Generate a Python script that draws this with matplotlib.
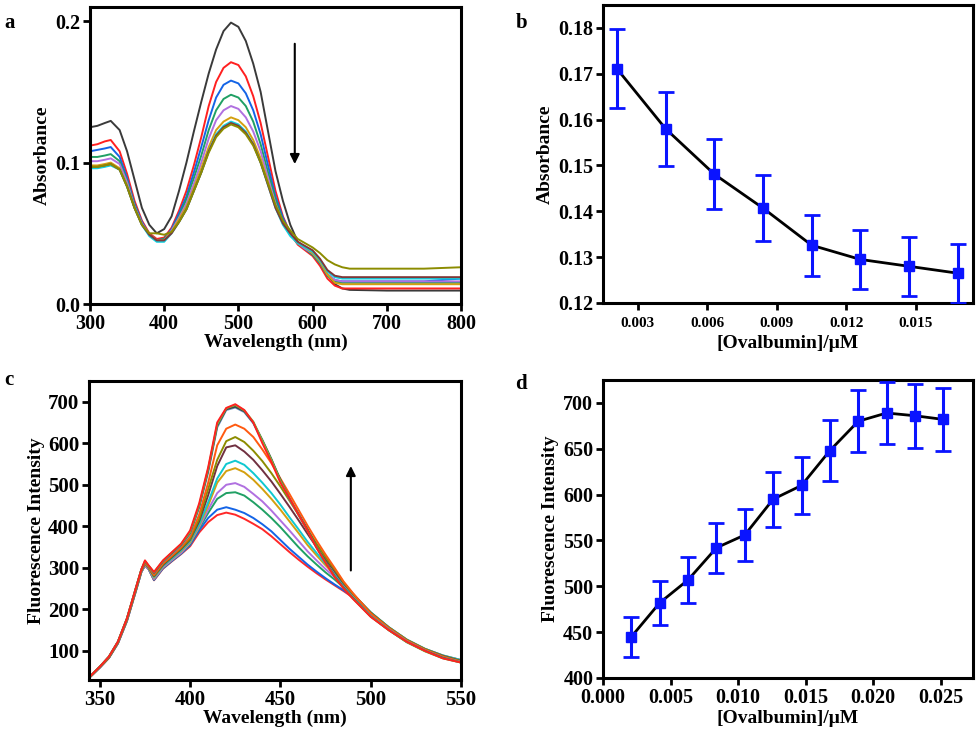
import numpy as np
import matplotlib.pyplot as plt

plt.rcParams['font.family'] = ['Liberation Serif', 'DejaVu Serif']
plt.rcParams['font.weight'] = 'bold'
plt.rcParams['axes.labelweight'] = 'bold'

# ---- panel a : UV-vis spectra ----
wl_a = [300, 310, 320, 328, 340, 350, 360, 370, 380, 390, 400, 410, 420, 430, 440,
        450, 460, 470, 480, 490, 500, 510, 520, 530, 540, 550, 560, 570, 580, 590,
        600, 610, 620, 630, 640, 650, 700, 750, 800]
abs_black = [0.125, 0.126, 0.128, 0.1295, 0.123, 0.108, 0.088, 0.068, 0.056, 0.050, 0.053,
             0.062, 0.080, 0.100, 0.122, 0.143, 0.163, 0.180, 0.193, 0.199, 0.196, 0.186,
             0.170, 0.150, 0.122, 0.094, 0.073, 0.056, 0.044, 0.040, 0.036, 0.030, 0.021,
             0.014, 0.011, 0.010, 0.0095, 0.0095, 0.0095]
abs_red = [0.112, 0.113, 0.115, 0.116, 0.108, 0.092, 0.073, 0.059, 0.050, 0.046, 0.047,
           0.054, 0.066, 0.080, 0.098, 0.118, 0.140, 0.157, 0.167, 0.171, 0.169, 0.161,
           0.147, 0.128, 0.104, 0.080, 0.062, 0.050, 0.042, 0.038, 0.034, 0.027, 0.018,
           0.013, 0.011, 0.011, 0.011, 0.011, 0.011]
abs_blue = [0.108, 0.109, 0.110, 0.111, 0.104, 0.089, 0.071, 0.058, 0.049, 0.045, 0.046,
            0.053, 0.064, 0.076, 0.093, 0.111, 0.130, 0.146, 0.155, 0.158, 0.156, 0.149,
            0.137, 0.120, 0.098, 0.076, 0.061, 0.050, 0.043, 0.039, 0.035, 0.029, 0.021,
            0.017, 0.016, 0.016, 0.016, 0.016, 0.018]
abs_green = [0.104, 0.104, 0.105, 0.106, 0.101, 0.087, 0.070, 0.057, 0.049, 0.045, 0.046,
             0.052, 0.062, 0.074, 0.089, 0.105, 0.123, 0.137, 0.145, 0.148, 0.146, 0.140,
             0.129, 0.113, 0.093, 0.074, 0.059, 0.049, 0.043, 0.039, 0.035, 0.029, 0.020,
             0.016, 0.015, 0.015, 0.015, 0.015, 0.015]
abs_purple = [0.101, 0.101, 0.102, 0.103, 0.099, 0.086, 0.069, 0.057, 0.049, 0.045, 0.045,
              0.052, 0.061, 0.071, 0.085, 0.100, 0.117, 0.130, 0.137, 0.140, 0.138, 0.132,
              0.122, 0.108, 0.089, 0.071, 0.058, 0.049, 0.043, 0.039, 0.036, 0.030, 0.021,
              0.017, 0.016, 0.016, 0.016, 0.016, 0.016]
abs_gold = [0.098, 0.098, 0.099, 0.100, 0.096, 0.084, 0.068, 0.056, 0.049, 0.045, 0.045,
            0.051, 0.060, 0.069, 0.082, 0.096, 0.111, 0.123, 0.129, 0.132, 0.130, 0.125,
            0.116, 0.103, 0.086, 0.069, 0.057, 0.049, 0.043, 0.040, 0.036, 0.030, 0.021,
            0.015, 0.014, 0.014, 0.014, 0.014, 0.014]
abs_cyan = [0.096, 0.096, 0.097, 0.098, 0.095, 0.083, 0.068, 0.056, 0.048, 0.044, 0.044,
            0.050, 0.058, 0.067, 0.080, 0.093, 0.108, 0.120, 0.126, 0.129, 0.127, 0.122,
            0.113, 0.100, 0.084, 0.068, 0.056, 0.048, 0.043, 0.040, 0.037, 0.031, 0.023,
            0.019, 0.018, 0.018, 0.018, 0.018, 0.018]
abs_brown = [0.097, 0.097, 0.098, 0.099, 0.095, 0.083, 0.068, 0.056, 0.049, 0.045, 0.045,
             0.050, 0.058, 0.067, 0.080, 0.093, 0.108, 0.119, 0.125, 0.128, 0.126, 0.121,
             0.113, 0.100, 0.084, 0.068, 0.057, 0.050, 0.044, 0.041, 0.038, 0.032, 0.024,
             0.020, 0.019, 0.019, 0.019, 0.019, 0.019]
abs_olive = [0.097, 0.097, 0.098, 0.099, 0.095, 0.083, 0.068, 0.056, 0.050, 0.050, 0.049,
             0.051, 0.058, 0.067, 0.080, 0.093, 0.107, 0.118, 0.124, 0.127, 0.125, 0.120,
             0.112, 0.100, 0.085, 0.070, 0.059, 0.052, 0.046, 0.043, 0.040, 0.036, 0.031,
             0.028, 0.026, 0.025, 0.025, 0.025, 0.026]
spectra_a = [abs_black, abs_red, abs_blue, abs_green, abs_purple, abs_gold, abs_cyan,
             abs_brown, abs_olive]
colors_a = ['#3a3a3a', '#ff2020', '#1464e6', '#20a064', '#b070e0', '#d4a010', '#10d0e0',
            '#803838', '#8c8c00']

# ---- panel b : absorbance vs ovalbumin ----
conc_b = [0.0021, 0.0042, 0.0063, 0.0084, 0.0105, 0.0126, 0.0147, 0.0168]
abs_b = [0.1711, 0.1580, 0.1481, 0.1407, 0.1326, 0.1295, 0.1280, 0.1265]
err_b = [0.0086, 0.0081, 0.0076, 0.0072, 0.0067, 0.0065, 0.0065, 0.0064]

# ---- panel c : fluorescence spectra ----
wl_c = [344, 350, 355, 360, 365, 370, 373, 375, 377, 380, 385, 390, 395,
        400, 405, 410, 415, 420, 425, 430, 435, 440, 445, 450, 455, 460, 465, 470,
        475, 480, 485, 490, 500, 510, 520, 530, 540, 550]
fl_1 = [35, 60, 83, 118, 172, 245, 290, 306, 297, 270, 298, 316, 333,
        352, 385, 410, 427, 433, 428, 418, 406, 393, 376, 357, 338, 320, 303, 287,
        272, 258, 244, 229, 190, 155, 125, 103, 86, 74]
fl_2 = [35, 60, 83, 118, 172, 245, 290, 306, 297, 271, 299, 317, 334,
        355, 390, 420, 440, 446, 440, 432, 420, 405, 388, 367, 346, 327, 308, 291,
        275, 260, 246, 231, 191, 156, 126, 104, 87, 76]
fl_3 = [35, 60, 83, 118, 172, 245, 290, 306, 298, 272, 300, 318, 335,
        358, 395, 432, 466, 480, 482, 474, 458, 440, 420, 398, 374, 350, 328, 308,
        289, 272, 253, 233, 192, 157, 127, 105, 88, 77]
fl_4 = [35, 60, 83, 118, 172, 245, 290, 307, 298, 273, 301, 319, 336,
        360, 398, 440, 480, 500, 504, 495, 478, 460, 438, 414, 390, 365, 340, 318,
        297, 278, 257, 235, 192, 157, 127, 105, 89, 78]
fl_5 = [35, 61, 84, 120, 175, 248, 293, 310, 300, 276, 304, 322, 340,
        362, 402, 450, 505, 533, 540, 530, 512, 490, 466, 440, 412, 384, 355, 330,
        306, 284, 260, 236, 193, 157, 127, 105, 89, 78]
fl_6 = [35, 61, 84, 120, 175, 248, 293, 310, 300, 278, 305, 323, 342,
        365, 405, 458, 515, 550, 558, 548, 528, 505, 480, 452, 422, 393, 363, 336,
        310, 286, 261, 237, 193, 157, 127, 105, 89, 78]
fl_7 = [35, 61, 84, 120, 175, 248, 293, 311, 301, 280, 307, 326, 345,
        368, 412, 475, 545, 590, 595, 580, 560, 535, 508, 478, 447, 415, 382, 350,
        320, 292, 263, 238, 192, 156, 126, 104, 88, 76]
fl_8 = [35, 61, 84, 120, 175, 248, 293, 311, 301, 281, 309, 328, 347,
        370, 418, 490, 560, 605, 615, 603, 582, 557, 528, 496, 462, 428, 393, 358,
        326, 296, 265, 238, 191, 156, 126, 104, 87, 75]
fl_9 = [35, 61, 85, 121, 176, 250, 294, 312, 302, 283, 311, 330, 350,
        375, 428, 505, 595, 635, 645, 635, 615, 585, 552, 515, 478, 440, 402, 366,
        332, 300, 267, 240, 190, 155, 125, 103, 86, 74]
fl_10 = [36, 62, 86, 122, 178, 252, 296, 315, 304, 287, 315, 334, 354,
         382, 445, 530, 638, 680, 686, 675, 648, 605, 560, 510, 465, 428, 390, 350,
         315, 282, 254, 230, 185, 152, 123, 101, 84, 73]
fl_11 = [36, 62, 86, 122, 178, 252, 296, 315, 305, 288, 316, 336, 356,
         385, 448, 535, 642, 682, 688, 677, 650, 608, 562, 512, 467, 430, 392, 350,
         315, 280, 252, 228, 183, 150, 121, 100, 83, 72]
fl_12 = [36, 62, 86, 122, 178, 252, 296, 316, 305, 289, 317, 337, 357,
         386, 450, 538, 645, 684, 692, 679, 652, 606, 560, 510, 468, 428, 390, 349,
         313, 279, 251, 227, 183, 150, 121, 99, 82, 72]
fl_13 = [36, 62, 86, 122, 178, 252, 296, 318, 306, 290, 318, 338, 358,
         390, 455, 542, 650, 685, 694, 680, 650, 600, 555, 505, 468, 428, 390, 348,
         312, 278, 250, 226, 182, 150, 122, 100, 82, 72]
spectra_c = [fl_1, fl_2, fl_3, fl_4, fl_5, fl_6, fl_7, fl_8, fl_9, fl_10, fl_11, fl_12, fl_13]
colors_c = ['#ff2828', '#1464e6', '#20a064', '#b070e0', '#d4a010', '#10c8d0', '#703040',
            '#8c8c00', '#ff5a10', '#6890c0', '#404040', '#70c040', '#ff2020']

# ---- panel d : fluorescence vs ovalbumin ----
conc_d = [0.0021, 0.0042, 0.0063, 0.0084, 0.0105, 0.0126, 0.0147, 0.0168, 0.0189,
          0.0210, 0.0231, 0.0252]
fl_d = [445, 482, 507, 542, 556, 595, 610, 648, 680, 689, 686, 682]
err_d = [22, 24, 25, 27, 28, 30, 31, 33, 34, 34, 35, 34]

fig = plt.figure(figsize=(9.8, 7.34), dpi=100)
ax_a = fig.add_axes([0.0918, 0.5858, 0.3786, 0.4046])
ax_b = fig.add_axes([0.6153, 0.5872, 0.3776, 0.406])
ax_c = fig.add_axes([0.0908, 0.0736, 0.3796, 0.4074])
ax_d = fig.add_axes([0.6153, 0.0763, 0.3776, 0.406])


def style(ax, ticksize=14.5):
    for s in ax.spines.values():
        s.set_linewidth(2.2)
    ax.tick_params(width=2, length=5, direction='out', labelsize=ticksize, pad=2)
    for lab in ax.get_xticklabels() + ax.get_yticklabels():
        lab.set_fontweight('bold')


# a
for y, c in zip(spectra_a, colors_a):
    ax_a.plot(wl_a, y, color=c, lw=1.4)
ax_a.set_xlim(300, 800)
ax_a.set_ylim(0, 0.21)
ax_a.set_xticks([300, 400, 500, 600, 700, 800])
ax_a.set_yticks([0.0, 0.1, 0.2])
ax_a.annotate('', xy=(576, 0.097), xytext=(576, 0.186),
              arrowprops=dict(arrowstyle='-|>', color='black', lw=1.5, mutation_scale=14))
style(ax_a, 14.5)
ax_a.set_xlabel('Wavelength (nm)', fontsize=14, labelpad=0)
ax_a.set_ylabel('Absorbance', fontsize=14, labelpad=3)

# b
ax_b.plot(conc_b, abs_b, color='black', lw=2, zorder=2)
ax_b.errorbar(conc_b, abs_b, yerr=err_b, fmt='s', color='#0a14ff', ms=6.5, elinewidth=2.2,
              capsize=5.5, capthick=2, zorder=3)
ax_b.set_xlim(0.0015, 0.01746)
ax_b.set_ylim(0.12, 0.185)
ax_b.set_xticks([0.003, 0.006, 0.009, 0.012, 0.015])
ax_b.set_xticklabels(['0.003', '0.006', '0.009', '0.012', '0.015'])
ax_b.set_yticks([0.12, 0.13, 0.14, 0.15, 0.16, 0.17, 0.18])
ax_b.set_yticklabels(['0.12', '0.13', '0.14', '0.15', '0.16', '0.17', '0.18'])
style(ax_b, 14.5)
ax_b.tick_params(axis='x', labelsize=11, pad=5)
ax_b.set_xlabel('[Ovalbumin]/μM', fontsize=14, labelpad=4)
ax_b.set_ylabel('Absorbance', fontsize=14, labelpad=3)

# c
for y, c in zip(spectra_c, colors_c):
    ax_c.plot(wl_c, y, color=c, lw=1.4)
ax_c.set_xlim(344, 550)
ax_c.set_ylim(30, 750)
ax_c.set_xticks([350, 400, 450, 500, 550])
ax_c.set_yticks([100, 200, 300, 400, 500, 600, 700])
ax_c.annotate('', xy=(489, 552), xytext=(489, 287),
              arrowprops=dict(arrowstyle='-|>', color='black', lw=1.5, mutation_scale=14))
style(ax_c, 15)
ax_c.set_xlabel('Wavelength (nm)', fontsize=14, labelpad=0)
ax_c.set_ylabel('Fluorescence Intensity', fontsize=14, labelpad=2)

# d
ax_d.plot(conc_d, fl_d, color='black', lw=2, zorder=2)
ax_d.errorbar(conc_d, fl_d, yerr=err_d, fmt='s', color='#0a14ff', ms=6.5, elinewidth=2.2,
              capsize=5.5, capthick=2, zorder=3)
ax_d.set_xlim(0.0, 0.0274)
ax_d.set_ylim(400, 725)
ax_d.set_xticks([0.000, 0.005, 0.010, 0.015, 0.020, 0.025])
ax_d.set_xticklabels(['0.000', '0.005', '0.010', '0.015', '0.020', '0.025'])
ax_d.set_yticks([400, 450, 500, 550, 600, 650, 700])
style(ax_d, 14.5)
ax_d.set_xlabel('[Ovalbumin]/μM', fontsize=14, labelpad=2)
ax_d.set_ylabel('Fluorescence Intensity', fontsize=14, labelpad=3)

for lbl, x, y in [('a', 0.004, 0.962), ('b', 0.526, 0.962), ('c', 0.004, 0.475),
                  ('d', 0.526, 0.47)]:
    fig.text(x, y, lbl, fontsize=15, fontweight='bold')

fig.savefig('out.png', dpi=100)
